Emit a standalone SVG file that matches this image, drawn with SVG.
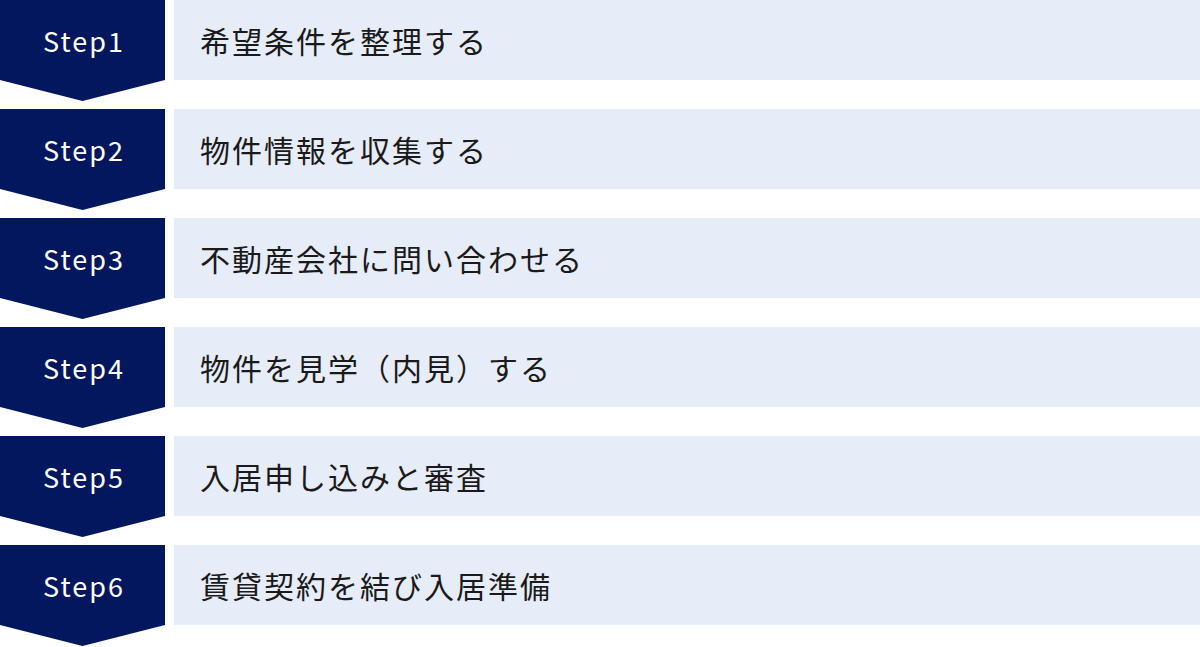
<svg xmlns="http://www.w3.org/2000/svg" width="1200" height="647" viewBox="0 0 1200 647">
<style>
.badge{fill:#03175F}
.box{fill:#E6ECF8}
.step{font-family:"Noto Sans CJK JP","Noto Sans",sans-serif;font-size:27px;fill:#FFFFFF;text-anchor:middle;letter-spacing:2px}
.lbl{font-family:"Noto Sans CJK JP","Noto Sans",sans-serif;font-size:30px;fill:#1A1A1A;letter-spacing:2px}
</style>
<defs>
<polygon id="chev" points="0,0 165,0 165,80 82.5,101 0,80"/>
</defs>
<g id="step1"><use href="#chev" class="badge"/><rect class="box" x="174" y="0" width="1026" height="80"/><text class="step" x="84" y="52">Step1</text><text class="lbl" x="200" y="53">希望条件を整理する</text></g>
<g id="step2" transform="translate(0,109)"><use href="#chev" class="badge"/><rect class="box" x="174" y="0" width="1026" height="80"/><text class="step" x="84" y="52">Step2</text><text class="lbl" x="200" y="53">物件情報を収集する</text></g>
<g id="step3" transform="translate(0,218)"><use href="#chev" class="badge"/><rect class="box" x="174" y="0" width="1026" height="80"/><text class="step" x="84" y="52">Step3</text><text class="lbl" x="200" y="53">不動産会社に問い合わせる</text></g>
<g id="step4" transform="translate(0,327)"><use href="#chev" class="badge"/><rect class="box" x="174" y="0" width="1026" height="80"/><text class="step" x="84" y="52">Step4</text><text class="lbl" x="200" y="53">物件を見学（内見）する</text></g>
<g id="step5" transform="translate(0,436)"><use href="#chev" class="badge"/><rect class="box" x="174" y="0" width="1026" height="80"/><text class="step" x="84" y="52">Step5</text><text class="lbl" x="200" y="53">入居申し込みと審査</text></g>
<g id="step6" transform="translate(0,545)"><use href="#chev" class="badge"/><rect class="box" x="174" y="0" width="1026" height="80"/><text class="step" x="84" y="52">Step6</text><text class="lbl" x="200" y="53">賃貸契約を結び入居準備</text></g>
<g id="connectors"/>
</svg>
